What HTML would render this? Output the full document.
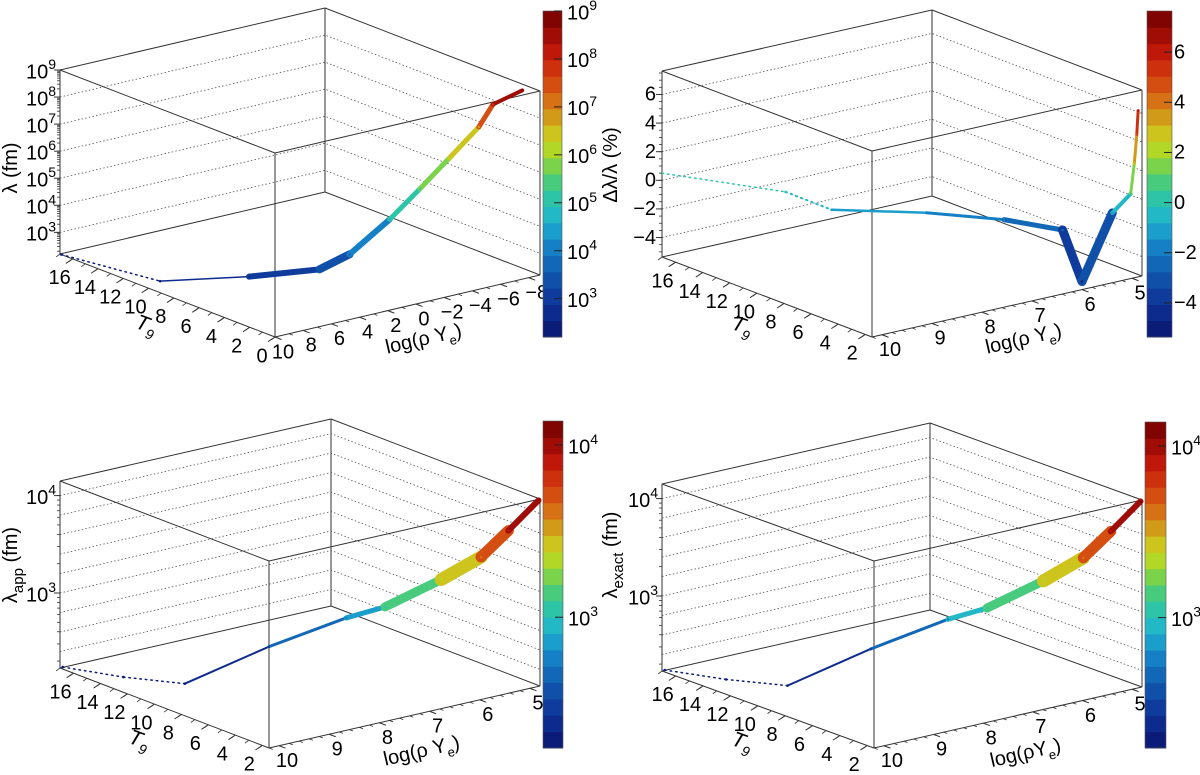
<!DOCTYPE html>
<html><head><meta charset="utf-8"><title>3D scatter panels</title>
<style>
html,body{margin:0;padding:0;background:#fff;}
svg{display:block;}
</style></head>
<body>
<svg id="fig" width="1200" height="775" viewBox="0 0 1200 775" xmlns="http://www.w3.org/2000/svg" font-family="'Liberation Sans', sans-serif">
<rect x="0" y="0" width="1200" height="775" fill="#fff"/>
</svg>
<script>
// ---------- Panel 1 data: lambda (fm) ----------
const p1LogRho = [10, 9.0, 6.1, 3.7, 2.2, -1.1, -3.8, -6.4, -8.5, -8.6, -8.7];
const p1T9 = [16.9, 10.2, 6.4, 3.5, 2.8, 3.3, 3.9, 4.5, 4.5, 3.5, 1.3];
const p1Lambda = [158, 200, 631, 2000, 6310, 39800, 200000, 1000000, 7900000, 79000000, 630000000];
// ---------- Panel 2 data: delta lambda / lambda (%) ----------
const p2LogRho = [10.2, 9.03, 8.57, 7.24, 6.26, 5.63, 6.0, 5.15, 5.0, 4.9, 4.85, 4.85];
const p2T9 = [17, 12.2, 10.5, 8.4, 6.3, 4.3, 1.5, 2.4, 1.6, 1.7, 1.7, 1.6];
const p2Delta = [0.5, 0, -1, -1.5, -2, -2.5, -4.8, -1, 0.5, 2.5, 4.5, 6.2];
// ---------- Panel 3 data: lambda_app (fm) ----------
const p3LogRho = [10.2, 9.93, 9.38, 7.76, 6.81, 6.6, 5.96, 5.68, 5.43, 4.83];
const p3T9 = [16.8, 13.3, 10.8, 10.6, 8.4, 6.3, 4.5, 2.6, 1.5, 1.5];
const p3Lambda = [178, 200, 200, 316, 631, 1000, 2000, 3980, 7940, 13800];
// ---------- Panel 4 data: lambda_exact (fm) ----------
const p4LogRho = [10.2, 9.93, 9.38, 7.76, 6.81, 6.6, 5.96, 5.68, 5.43, 4.83];
const p4T9 = [16.8, 13.3, 10.8, 10.6, 8.4, 6.3, 4.5, 2.6, 1.5, 1.5];
const p4Lambda = [178, 200, 200, 316, 640, 1010, 2000, 4000, 7950, 13800];
// tick label values
const p1ZTicks = [3, 4, 5, 6, 7, 8, 9];
const p2ZTicks = [-4, -2, 0, 2, 4, 6];
const p34ZTicks = [3, 4];
const p1XTicks = [10, 8, 6, 4, 2, 0, -2, -4, -6, -8];
const p234XTicks = [10, 9, 8, 7, 6, 5];
const p1TTicks = [0, 2, 4, 6, 8, 10, 12, 14, 16];
const p234TTicks = [2, 4, 6, 8, 10, 12, 14, 16];

const FS = 20;
const NS = 'http://www.w3.org/2000/svg';
const svg = document.getElementById('fig');
function mk(tag, attrs, parent) {
  const e = document.createElementNS(NS, tag);
  for (const k in attrs) e.setAttribute(k, attrs[k]);
  (parent || svg).appendChild(e);
  return e;
}
const STOPS = [
  [0.00, [10, 20, 110]], [0.10, [14, 50, 150]], [0.20, [18, 90, 175]], [0.28, [22, 130, 200]],
  [0.36, [30, 180, 205]], [0.44, [50, 200, 160]], [0.50, [90, 205, 100]], [0.56, [170, 220, 40]],
  [0.62, [205, 200, 30]], [0.68, [210, 150, 25]], [0.74, [215, 100, 20]], [0.80, [210, 60, 15]],
  [0.88, [190, 20, 10]], [1.00, [110, 0, 0]]
];
function palette(f) {
  f = Math.max(0, Math.min(0.9999, f));
  f = (Math.floor(f * 20) + 0.5) / 20;
  for (let i = 1; i < STOPS.length; i++) {
    if (f <= STOPS[i][0]) {
      const [f0, c0] = STOPS[i - 1], [f1, c1] = STOPS[i];
      const u = (f - f0) / (f1 - f0);
      const c = c0.map((v, k) => Math.round(v + u * (c1[k] - v)));
      return 'rgb(' + c.join(',') + ')';
    }
  }
  return 'rgb(110,0,0)';
}
function powText(x, y, exp, anchor, size, name, parent) {
  const t = mk('text', {x: x, y: y, 'text-anchor': anchor, 'font-size': size, fill: '#000', 'dominant-baseline': 'middle'}, parent);
  
  
  t.appendChild(document.createTextNode('10'));
  const s = mk('tspan', {dy: -8, 'font-size': Math.round(size * 0.68)}, t);
  s.textContent = exp;
  return t;
}

function drawPanel(c, rho, t9, val, widths, dashN) {
  const g = mk('g', {});
  
  
  const P = (a, b, zf) => [c.O[0] + a * c.X[0] + b * c.T[0], c.O[1] + a * c.X[1] + b * c.T[1] - zf * c.H];
  const zs = v => c.log ? Math.log10(v) : v;
  const zf = z => (z - c.zr[0]) / (c.zr[1] - c.zr[0]);
  const ax = r => (r - c.xr[0]) / (c.xr[1] - c.xr[0]);
  const bt = t => (t - c.tr[0]) / (c.tr[1] - c.tr[0]);
  const col = v => palette((zs(v) - c.cb.lo) / (c.cb.hi - c.cb.lo));

  c.grid.forEach(gz => {
    const f = zf(gz);
    const p1 = P(0, 1, f), p2 = P(1, 1, f), p3 = P(1, 0, f);
    const l = mk('polyline', {points: [p1, p2, p3].map(p => p.join(',')).join(' '), fill: 'none', stroke: '#555', 'stroke-width': 0.8, 'stroke-dasharray': '1.5 2.2'}, g);
    
    
  });
  const C = {};
  [[0,0],[1,0],[0,1],[1,1]].forEach(([a,b]) => { C[a+''+b+'0'] = P(a,b,0); C[a+''+b+'1'] = P(a,b,1); });
  const edges = [['000','100'],['000','010'],['100','110'],['010','110'],['001','101'],['001','011'],['101','111'],['011','111'],['000','001'],['100','101'],['010','011'],['110','111']];
  edges.forEach(([u, v]) => {
    const l = mk('line', {x1: C[u][0], y1: C[u][1], x2: C[v][0], y2: C[v][1], stroke: '#333', 'stroke-width': 1}, g);
    
    
  });

  for (let i = 0; i < rho.length - 1; i++) {
    const p = P(ax(rho[i]), bt(t9[i]), zf(zs(val[i])));
    const q = P(ax(rho[i + 1]), bt(t9[i + 1]), zf(zs(val[i + 1])));
    const mid = c.log ? Math.sqrt(val[i] * val[i + 1]) : (val[i] + val[i + 1]) / 2;
    const attrs = {x1: p[0], y1: p[1], x2: q[0], y2: q[1], stroke: col(mid), 'stroke-width': widths[i], 'stroke-linecap': 'round'};
    if (i < dashN) attrs['stroke-dasharray'] = '1.5 4';
    const l = mk('line', attrs, g);
    
    
  }
  for (let i = 0; i < rho.length; i++) {
    const p = P(ax(rho[i]), bt(t9[i]), zf(zs(val[i])));
    const d = mk('circle', {cx: p[0], cy: p[1], r: 1.3, fill: col(val[i])}, g);
    
    
  }

  c.zMinor.forEach(z => {
    const p = P(0, 1, zf(z));
    const l = mk('line', {x1: p[0], y1: p[1], x2: p[0] - 3, y2: p[1], stroke: '#333', 'stroke-width': 0.8}, g);
    
    
  });
  c.zTicks.forEach(z => {
    const p = P(0, 1, zf(z));
    const l = mk('line', {x1: p[0], y1: p[1], x2: p[0] - 6, y2: p[1], stroke: '#333', 'stroke-width': 1}, g);
    
    
    if (c.log) powText(p[0] - 4, p[1] + 3, z, 'end', FS, 'z-tick-label', g);
    else {
      const t = mk('text', {x: p[0] - 6, y: p[1] + 1, 'text-anchor': 'end', 'font-size': FS, 'dominant-baseline': 'middle'}, g);
      
      
      t.textContent = z < 0 ? '\u2212' + Math.abs(z) : z;
    }
  });
  const xl = Math.hypot(c.X[0], c.X[1]), tl = Math.hypot(c.T[0], c.T[1]);
  c.tMinor.forEach(t => {
    const p = P(0, bt(t), 0);
    const l = mk('line', {x1: p[0], y1: p[1], x2: p[0] - c.X[0] / xl * 4, y2: p[1] - c.X[1] / xl * 4 + 2, stroke: '#333', 'stroke-width': 0.8}, g);
    
    
  });
  c.tTicks.forEach(t => {
    const p = P(0, bt(t), 0);
    const l = mk('line', {x1: p[0], y1: p[1], x2: p[0] - c.X[0] / xl * 7, y2: p[1] - c.X[1] / xl * 7 + 3, stroke: '#333', 'stroke-width': 1}, g);
    
    
    const tx = mk('text', {x: p[0] - 13, y: p[1] + 20, 'text-anchor': 'middle', 'font-size': FS, 'dominant-baseline': 'middle'}, g);
    
    
    tx.textContent = t;
  });
  c.xMinor.forEach(r => {
    const p = P(ax(r), 0, 0);
    const l = mk('line', {x1: p[0], y1: p[1], x2: p[0] - c.T[0] / tl * 4, y2: p[1] - c.T[1] / tl * 4, stroke: '#333', 'stroke-width': 0.8}, g);
    
    
  });
  c.xTicks.forEach(r => {
    const p = P(ax(r), 0, 0);
    const l = mk('line', {x1: p[0], y1: p[1], x2: p[0] - c.T[0] / tl * 7, y2: p[1] - c.T[1] / tl * 7, stroke: '#333', 'stroke-width': 1}, g);
    
    
    const tx = mk('text', {x: p[0] + 8, y: p[1] + 16, 'text-anchor': 'middle', 'font-size': FS, 'dominant-baseline': 'middle'}, g);
    
    
    tx.textContent = r < 0 ? '\u2212' + Math.abs(r) : r;
  });

  const cb = c.cb, n = 20;
  for (let i = 0; i < n; i++) {
    const r = mk('rect', {x: cb.x, y: cb.y + cb.h - (i + 1) * cb.h / n, width: cb.w, height: cb.h / n + 0.5, fill: palette((i + 0.5) / n)}, g);
    
    
  }
  const fr = mk('rect', {x: cb.x, y: cb.y, width: cb.w, height: cb.h, fill: 'none', stroke: '#555', 'stroke-width': 0.6}, g);
  
  
  cb.ticks.forEach(v => {
    const y = cb.y + cb.h - (v - cb.lo) / (cb.hi - cb.lo) * cb.h;
    const l = mk('line', {x1: cb.x + cb.w - 8, y1: y, x2: cb.x + cb.w, y2: y, stroke: '#222', 'stroke-width': 1}, g);
    
    
    if (c.log) powText(cb.x + cb.w + 5, y + 3, v, 'start', FS, 'colorbar-label', g);
    else {
      const t = mk('text', {x: cb.x + cb.w + 2, y: y + 1, 'text-anchor': 'start', 'font-size': FS, 'dominant-baseline': 'middle'}, g);
      
      
      t.textContent = v < 0 ? '\u2212' + Math.abs(v) : v;
    }
  });

  const xt = mk('text', {x: c.xTitle[0], y: c.xTitle[1], 'text-anchor': 'middle', 'font-size': FS, transform: 'rotate(-13 ' + c.xTitle[0] + ' ' + c.xTitle[1] + ')'}, g);
  
  
  xt.appendChild(document.createTextNode(c.xTitleText));
  const xs = mk('tspan', {dy: 6, 'font-size': 13}, xt); xs.textContent = 'e';
  const xs2 = mk('tspan', {dy: -6}, xt); xs2.textContent = ')';

  const tt = mk('text', {x: c.tTitle[0], y: c.tTitle[1], 'text-anchor': 'middle', 'font-size': 21, 'font-style': 'italic', transform: 'rotate(20 ' + c.tTitle[0] + ' ' + c.tTitle[1] + ')'}, g);
  
  
  tt.appendChild(document.createTextNode('T'));
  const ts = mk('tspan', {dy: 6, 'font-size': 14}, tt); ts.textContent = '9';

  const yt = mk('text', {x: c.yTitle[0], y: c.yTitle[1], 'text-anchor': 'middle', 'font-size': FS, transform: 'rotate(-90 ' + c.yTitle[0] + ' ' + c.yTitle[1] + ')'}, g);
  
  
  yt.appendChild(document.createTextNode(c.yMain));
  if (c.ySub) {
    const s = mk('tspan', {dy: 6, 'font-size': 15}, yt); s.textContent = c.ySub;
    const s2 = mk('tspan', {dy: -6}, yt); s2.textContent = ' (fm)';
  }
}

function range(a, b, s) { const r = []; for (let v = a; v <= b + 1e-9; v += s) r.push(+v.toFixed(3)); return r; }
function logMinor(lo, hi) { const r = []; for (let d = Math.floor(lo); d <= hi; d++) for (let k = 1; k < 10; k++) { const v = d + Math.log10(k); if (v >= lo && v <= hi) r.push(v); } return r; }

drawPanel({
  name: 'panel-lambda', O: [275, 337], X: [265, -62], T: [-215, -83], H: 184,
  xr: [10, -8.8], tr: [0, 17], zr: [2.2, 9], log: true,
  grid: [3, 4, 5, 6, 7, 8], zTicks: p1ZTicks, zMinor: logMinor(2.2, 9),
  tTicks: p1TTicks, tMinor: range(0, 17, 1), xTicks: p1XTicks, xMinor: range(-8, 10, 1),
  cb: {x: 543, y: 11, w: 19, h: 326, lo: 2.2, hi: 9, ticks: p1ZTicks},
  xTitle: [425, 345], xTitleText: 'log(\u03c1 Y', tTitle: [144, 331], yTitle: [17, 168], yMain: '\u03bb (fm)'
}, p1LogRho, p1T9, p1Lambda, [1.5, 1.5, 6, 8, 6, 5, 5, 5, 5, 4], 1);

drawPanel({
  name: 'panel-delta', O: [872, 337], X: [270, -61], T: [-210, -80], H: 186,
  xr: [10.2, 4.8], tr: [1.5, 17], zr: [-5.36, 7.64], log: false,
  grid: [-4, -2, 0, 2, 4, 6], zTicks: p2ZTicks, zMinor: range(-5, 7.5, 0.5),
  tTicks: p234TTicks, tMinor: range(2, 17, 1), xTicks: p234XTicks, xMinor: range(5, 10.2, 0.2),
  cb: {x: 1147, y: 11, w: 25, h: 326, lo: -5.36, hi: 7.64, ticks: p2ZTicks},
  xTitle: [1025, 345], xTitleText: 'log(\u03c1 Y', tTitle: [740, 332], yTitle: [617, 165], yMain: '\u0394\u03bb/\u03bb (%)'
}, p2LogRho, p2T9, p2Delta, [1.5, 2, 2.5, 3, 5, 9, 9, 4, 3, 3, 3], 2);

drawPanel({
  name: 'panel-lambda-app', O: [269, 748], X: [271, -62], T: [-209, -80], H: 187,
  xr: [10.2, 4.8], tr: [1.5, 17], zr: [2.23, 4.15], log: true,
  grid: [2.4, 2.6, 2.8, 3.0, 3.2, 3.4, 3.6, 3.8, 4.0], zTicks: p34ZTicks, zMinor: logMinor(2.23, 4.15),
  tTicks: p234TTicks, tMinor: range(2, 17, 1), xTicks: p234XTicks, xMinor: range(5, 10.2, 0.2),
  cb: {x: 543, y: 421, w: 20, h: 327, lo: 2.24, hi: 4.14, ticks: p34ZTicks},
  xTitle: [423, 757], xTitleText: 'log(\u03c1 Y', tTitle: [137, 746], yTitle: [17, 565], yMain: '\u03bb', ySub: 'app'
}, p3LogRho, p3T9, p3Lambda, [1.5, 1.5, 2, 3, 5, 9, 13, 11, 6], 2);

drawPanel({
  name: 'panel-lambda-exact', O: [874, 748], X: [268, -61], T: [-212, -77], H: 187,
  xr: [10.2, 4.8], tr: [1.5, 17], zr: [2.23, 4.15], log: true,
  grid: [2.4, 2.6, 2.8, 3.0, 3.2, 3.4, 3.6, 3.8, 4.0], zTicks: p34ZTicks, zMinor: logMinor(2.23, 4.15),
  tTicks: p234TTicks, tMinor: range(2, 17, 1), xTicks: p234XTicks, xMinor: range(5, 10.2, 0.2),
  cb: {x: 1145, y: 422, w: 21, h: 326, lo: 2.24, hi: 4.14, ticks: p34ZTicks},
  xTitle: [1027, 759], xTitleText: 'log(\u03c1Y', tTitle: [740, 748], yTitle: [617, 555], yMain: '\u03bb', ySub: 'exact'
}, p4LogRho, p4T9, p4Lambda, [1.5, 1.5, 2, 3, 5, 9, 13, 11, 6], 2);
</script>
</body></html>
